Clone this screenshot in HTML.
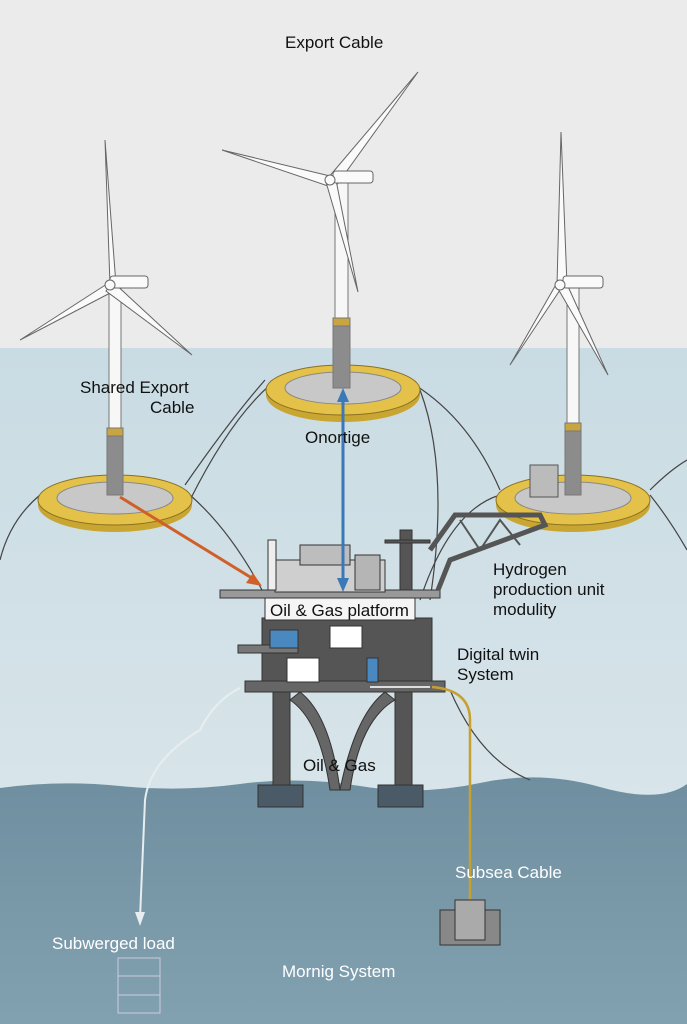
<!DOCTYPE html>
<html><head><style>body{margin:0}svg{display:block}text{font-family:"Liberation Sans",sans-serif}</style></head><body>
<svg width="687" height="1024" viewBox="0 0 687 1024" xmlns="http://www.w3.org/2000/svg">
<defs>
<linearGradient id="sea" x1="0" y1="0" x2="0" y2="1"><stop offset="0" stop-color="#c9dbe3"/><stop offset="1" stop-color="#d8e5ea"/></linearGradient>
<linearGradient id="deep" x1="0" y1="0" x2="0" y2="1"><stop offset="0" stop-color="#6f8fa0"/><stop offset="1" stop-color="#82a1b0"/></linearGradient>
</defs>
<rect width="687" height="350" fill="#ebebeb"/>
<rect y="348" width="687" height="460" fill="url(#sea)"/>
<path d="M0 788 Q60 780 120 786 T240 784 T360 786 T480 783 T600 787 T687 784 V1024 H0Z" fill="url(#deep)"/>
<!-- mooring lines -->
<g stroke="#444" stroke-width="1.2" fill="none">
<path d="M40 495 Q10 520 0 560"/><path d="M190 495 Q230 530 262 590"/><path d="M185 485 Q230 420 265 380"/>
<path d="M270 385 Q230 420 190 500"/><path d="M415 385 Q470 420 500 490"/><path d="M420 390 Q450 470 430 600"/>
<path d="M500 495 Q450 510 420 600"/><path d="M650 495 Q670 520 687 550"/><path d="M650 490 Q670 470 687 460"/>
<path d="M450 690 Q480 760 530 780"/>
</g>
<path d="M240 688 Q215 700 200 730 Q150 760 145 800 L140 918" stroke="#e8eef0" stroke-width="2" fill="none"/>
<path d="M135 912 L140 926 L145 912Z" fill="#e8eef0"/>
<!-- floats -->
<g>
<ellipse cx="115" cy="505" rx="77" ry="27" fill="#c9a532"/><ellipse cx="115" cy="500" rx="77" ry="25" fill="#e4c24a" stroke="#8a7020"/><ellipse cx="115" cy="498" rx="58" ry="16" fill="#c8c8c8" stroke="#888"/>
<ellipse cx="343" cy="395" rx="77" ry="27" fill="#c9a532"/><ellipse cx="343" cy="390" rx="77" ry="25" fill="#e4c24a" stroke="#8a7020"/><ellipse cx="343" cy="388" rx="58" ry="16" fill="#c8c8c8" stroke="#888"/>
<ellipse cx="573" cy="505" rx="77" ry="27" fill="#c9a532"/><ellipse cx="573" cy="500" rx="77" ry="25" fill="#e4c24a" stroke="#8a7020"/><ellipse cx="573" cy="498" rx="58" ry="16" fill="#c8c8c8" stroke="#888"/>
</g>
<!-- towers -->
<g stroke="#777" stroke-width="1">
<rect x="109" y="285" width="12" height="145" fill="#f7f7f7"/><rect x="107" y="430" width="16" height="65" fill="#8c8c8c"/><rect x="107" y="428" width="16" height="8" fill="#c8a540"/>
<rect x="335" y="180" width="13" height="140" fill="#f7f7f7"/><rect x="333" y="320" width="17" height="68" fill="#8c8c8c"/><rect x="333" y="318" width="17" height="8" fill="#c8a540"/>
<rect x="567" y="285" width="12" height="140" fill="#f7f7f7"/><rect x="565" y="425" width="16" height="70" fill="#8c8c8c"/><rect x="565" y="423" width="16" height="8" fill="#c8a540"/>
<rect x="530" y="465" width="28" height="32" fill="#bbb" stroke="#555"/>
</g>
<!-- blades -->
<g fill="#fafafa" stroke="#666" stroke-width="1">
<path d="M110 285 L105 140 L116 285Z"/><path d="M110 282 L20 340 L114 291Z"/><path d="M113 282 L192 355 L106 291Z"/><rect x="110" y="276" width="38" height="12" rx="3"/>
<path d="M328 178 L418 72 L336 186Z"/><path d="M330 176 L222 150 L328 186Z"/><path d="M326 182 L358 292 L336 180Z"/><rect x="333" y="171" width="40" height="12" rx="3"/>
<path d="M557 285 L561 132 L567 285Z"/><path d="M558 281 L510 365 L562 287Z"/><path d="M557 287 L608 375 L566 282Z"/><rect x="563" y="276" width="40" height="12" rx="3"/>
<circle cx="110" cy="285" r="5"/><circle cx="330" cy="180" r="5"/><circle cx="560" cy="285" r="5"/>
</g>
<!-- platform -->
<g stroke="#333" stroke-width="1">
<rect x="273" y="690" width="17" height="100" fill="#555"/><rect x="395" y="690" width="17" height="100" fill="#555"/>
<path d="M290 700 Q320 720 330 790 L340 790 Q330 715 300 692Z" fill="#666"/><path d="M395 700 Q360 720 350 790 L340 790 Q355 715 385 692Z" fill="#666"/>
<rect x="258" y="785" width="45" height="22" fill="#4a5a66"/><rect x="378" y="785" width="45" height="22" fill="#4a5a66"/>
<rect x="262" y="618" width="170" height="65" fill="#555"/>
<rect x="245" y="681" width="200" height="11" fill="#666"/>
<rect x="238" y="645" width="60" height="8" fill="#777"/>
<rect x="220" y="590" width="220" height="8" fill="#999"/>
<rect x="265" y="598" width="150" height="22" fill="#f5f5f5"/>
<rect x="275" y="560" width="110" height="32" fill="#cfcfcf"/><rect x="300" y="545" width="50" height="20" fill="#bdbdbd"/><rect x="355" y="555" width="25" height="35" fill="#b5b5b5"/>
<rect x="268" y="540" width="8" height="50" fill="#eee"/>
<rect x="400" y="530" width="12" height="60" fill="#555"/><rect x="385" y="540" width="45" height="3" fill="#555"/>
<rect x="270" y="630" width="28" height="18" fill="#4a88c0"/><rect x="330" y="626" width="32" height="22" fill="#fff"/>
<rect x="287" y="658" width="32" height="24" fill="#fff"/><rect x="367" y="658" width="11" height="24" fill="#4a88c0"/>
</g>
<path d="M430 550 L455 515 L540 515 L545 525 L450 560 L438 590" fill="none" stroke="#555" stroke-width="5"/>
<path d="M460 520 L480 550 L500 520 L520 545" fill="none" stroke="#555" stroke-width="2"/>
<!-- connectors -->
<path d="M343 392 V588" stroke="#3a78b8" stroke-width="3"/><path d="M337 578 L343 592 L349 578Z M337 402 L343 388 L349 402Z" fill="#3a78b8"/>
<path d="M120 497 L255 580" stroke="#d0602a" stroke-width="3"/><path d="M262 586 L246 583 L253 573Z" fill="#d0602a"/>
<path d="M432 687 Q470 690 470 720 V900" stroke="#c8a030" stroke-width="2.5" fill="none"/>
<path d="M370 687 H430" stroke="#ddd" stroke-width="2"/>
<!-- subsea boxes -->
<g stroke="#333" fill="#888"><rect x="440" y="910" width="60" height="35"/><rect x="455" y="900" width="30" height="40" fill="#aaa"/></g>
<g stroke="#ccd" fill="none"><rect x="118" y="958" width="42" height="55"/><path d="M118 976 H160 M118 995 H160"/></g>
<!-- labels -->
<g font-size="17" fill="#111">
<text x="285" y="48">Export Cable</text>
<text x="80" y="393">Shared Export</text><text x="150" y="413" >Cable</text>
<text x="305" y="443">Onortige</text>
<text x="270" y="616" font-size="17">Oil &amp; Gas platform</text>
<text x="493" y="575">Hydrogen</text><text x="493" y="595">production unit</text><text x="493" y="615">modulity</text>
<text x="457" y="660">Digital twin</text><text x="457" y="680">System</text>
<text x="303" y="771">Oil &amp; Gas</text>
</g>
<g font-size="17" fill="#fff"><text x="455" y="878">Subsea Cable</text><text x="52" y="949">Subwerged load</text><text x="282" y="977">Mornig System</text></g>
</svg>
</body></html>
